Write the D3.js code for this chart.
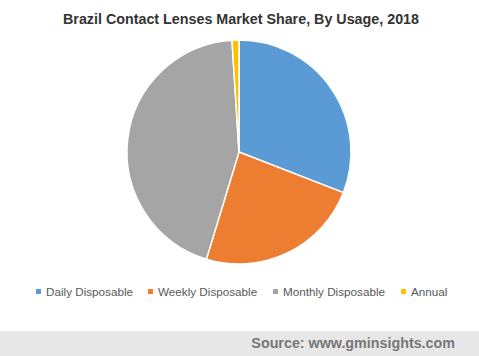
<!DOCTYPE html>
<html><head><meta charset="utf-8">
<script src="https://cdn.jsdelivr.net/npm/d3@7"></script>
<style>body{margin:0;background:#fff;}svg{display:block;font-family:Arial,"Liberation Sans",sans-serif;}</style>
</head><body><svg id="c" width="479" height="356"></svg>
<script>
const categories = ["Daily Disposable","Weekly Disposable","Monthly Disposable","Annual"];
const shares = [30.9, 23.8, 44.3, 1.0];
const colors = ["#5b9bd5","#ed7d31","#a5a5a5","#ffc000"];
const title = "Brazil Contact Lenses Market Share, By Usage, 2018";
const source = "Source: www.gminsights.com";

const svg = d3.select("#c");
svg.append("text").attr("x",241).attr("y",24).attr("text-anchor","middle")
  .attr("font-size",14.3).attr("font-weight","bold").attr("fill","#333").text(title);

const cx=239, cy=152, r=112;
const pie = d3.pie().sort(null).value(d=>d.v);
const arc = d3.arc().innerRadius(0).outerRadius(r);
const data = categories.map((c,i)=>({c, v:shares[i], col:colors[i]}));
svg.append("g").attr("transform",`translate(${cx},${cy})`)
  .selectAll("path").data(pie(data)).join("path")
  .attr("d",arc).attr("fill",d=>d.data.col).attr("stroke","#fff").attr("stroke-width",1.5);

// legend
const lg = svg.append("g").attr("font-size",11.7).attr("fill","#595959");
const xs=[36,148,273,401];
categories.forEach((c,i)=>{
  lg.append("rect").attr("x",xs[i]).attr("y",289).attr("width",5).attr("height",5).attr("fill",colors[i]);
  lg.append("text").attr("x",xs[i]+10).attr("y",296).text(c);
});

svg.append("rect").attr("x",0).attr("y",331).attr("width",479).attr("height",25).attr("fill","#e7e7e7");
svg.append("text").attr("x",455).attr("y",348).attr("text-anchor","end").attr("font-size",14.3)
  .attr("font-weight","bold").attr("fill","#777").text(source);
</script></body></html>
